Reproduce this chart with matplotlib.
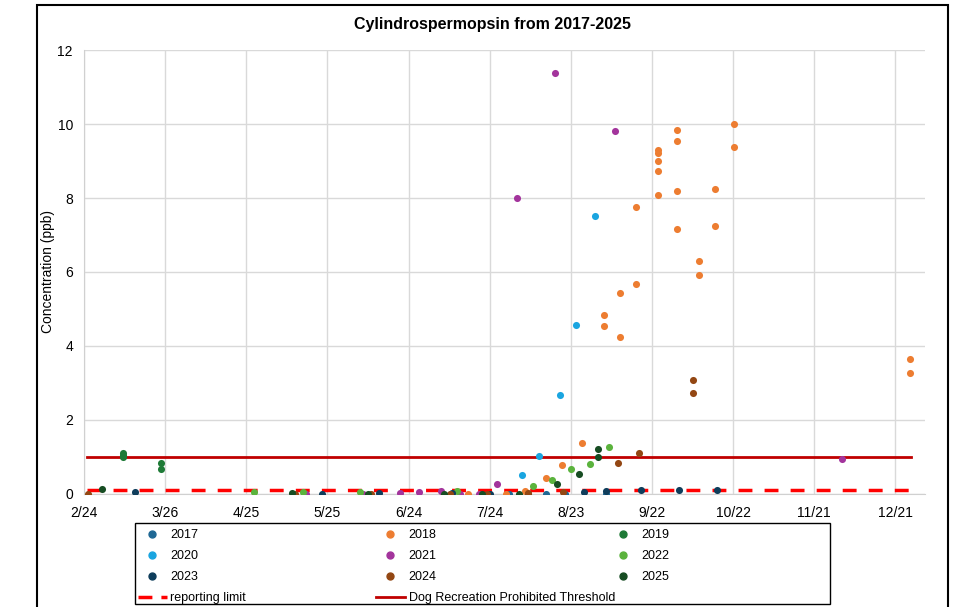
import numpy as np
import matplotlib.pyplot as plt
from matplotlib.patches import Rectangle
from matplotlib.lines import Line2D

plt.rcParams['font.family'] = ['Liberation Sans', 'DejaVu Sans']

# x = day of year, y = concentration (ppb)
d2017 = [212, 226, 233, 248]
c2017 = [0.0, 0.0, 0.0, 0.0]

d2018 = [197, 211, 218, 226, 231.9, 239.1, 247.2, 247.2, 253.2, 253.2, 259.2, 259.2,
         267.3, 267.3, 267.3, 267.3, 267.3, 274.3, 274.3, 274.3, 274.3, 282.3, 282.3,
         288.3, 288.3, 295.3, 295.3, 360.5, 360.5]
c2018 = [0.0, 0.01, 0.08, 0.44, 0.77, 1.37, 4.85, 4.53, 5.44, 4.25, 5.68, 7.77,
         9.30, 9.22, 9.0, 8.72, 8.09, 9.85, 9.54, 8.18, 7.17, 6.31, 5.91,
         8.23, 7.23, 10.01, 9.37, 3.64, 3.27]

d2019 = [69.5, 69.5, 69.5, 83.6, 83.6]
c2019 = [1.1, 1.05, 1.0, 0.83, 0.68]

d2020 = [217, 223.1, 231.1, 237.1, 244.1]
c2020 = [0.5, 1.02, 2.68, 4.57, 7.52]

d2021 = [137, 158, 172, 179, 187, 194, 201, 207.8, 215.1, 229.1, 251.2, 335.4]
c2021 = [0.01, 0.01, 0.03, 0.05, 0.07, 0.01, 0.0, 0.27, 7.99, 11.38, 9.81, 0.95]

d2022 = [117.7, 135.8, 157, 193, 221, 228, 235, 242, 249.2]
c2022 = [0.05, 0.05, 0.05, 0.07, 0.22, 0.38, 0.68, 0.82, 1.27]

d2023 = [73.7, 143, 164, 191, 205, 219, 240, 248, 261, 275, 289]
c2023 = [0.04, 0.0, 0.02, 0.02, 0.0, 0.0, 0.05, 0.09, 0.1, 0.1, 0.1]

d2024 = [56.6, 133, 161, 190.2, 204, 219, 232, 252.3, 260.3, 280.2, 280.2]
c2024 = [0.0, 0.0, 0.0, 0.0, 0.0, 0.02, 0.04, 0.85, 1.12, 3.07, 2.72]

d2025 = [61.5, 131.8, 160, 188, 202, 216, 230, 238, 245.1, 245.1]
c2025 = [0.13, 0.02, 0.0, 0.0, 0.0, 0.01, 0.27, 0.54, 1.21, 1.01]

reporting_limit = 0.1
dog_threshold = 1.0
line_days = [56, 361]

tick_days = [55, 85, 115, 145, 175, 205, 235, 265, 295, 325, 355]
tick_labels = ["2/24", "3/26", "4/25", "5/25", "6/24", "7/24", "8/23", "9/22", "10/22", "11/21", "12/21"]

series = [
    ("2017", d2017, c2017, "#1f6894"),
    ("2018", d2018, c2018, "#ed7d31"),
    ("2019", d2019, c2019, "#1e7a36"),
    ("2020", d2020, c2020, "#1aa5e0"),
    ("2021", d2021, c2021, "#a3349c"),
    ("2022", d2022, c2022, "#5bb33d"),
    ("2023", d2023, c2023, "#0e3d5b"),
    ("2024", d2024, c2024, "#934713"),
    ("2025", d2025, c2025, "#174d23"),
]

fig = plt.figure(figsize=(9.55, 6.07), dpi=100)
ax = fig.add_axes([0.088, 0.1862, 0.8806, 0.7314])

for name, d, c, col in series:
    ax.scatter(d, c, s=26, color=col, zorder=3, linewidths=0)

dash = (4, 3.5)
ax.plot(line_days, [reporting_limit] * 2, color="#ff0000", lw=2.5, dashes=dash, zorder=2)
ax.plot(line_days, [dog_threshold] * 2, color="#c00000", lw=2, zorder=2)

ax.set_xlim(55, 366)
ax.set_ylim(0, 12)
ax.set_xticks(tick_days)
ax.set_xticklabels(tick_labels)
ax.set_yticks(np.arange(0, 13, 2))
ax.tick_params(length=0, labelsize=10)
ax.tick_params(axis="x", pad=9)
ax.tick_params(axis="y", pad=8)
ax.grid(True, color="#d9d9d9", lw=1)
ax.set_axisbelow(True)
for s in ["top", "right"]:
    ax.spines[s].set_visible(False)
for s in ["left", "bottom"]:
    ax.spines[s].set_color("#d0d0d0")
ax.set_ylabel("Concentration (ppb)", fontsize=10)
ax.yaxis.set_label_coords(-0.034, 0.5)

fig.text(0.5157, 0.96, "Cylindrospermopsin from 2017-2025", ha="center", va="center",
         fontsize=11.5, fontweight="bold")

# legend: three single-column legends inside one box
def year_handle(k):
    return Line2D([], [], ls="none", marker="o", markersize=5, color=series[k][3])

columns = [
    ([year_handle(0), year_handle(3), year_handle(6),
      Line2D([], [], color="#ff0000", lw=2.5, dashes=(4, 2.6))],
     ["2017", "2020", "2023", "reporting limit"], 138),
    ([year_handle(1), year_handle(4), year_handle(7),
      Line2D([], [], color="#c00000", lw=2)],
     ["2018", "2021", "2024", "Dog Recreation Prohibited Threshold"], 376),
    ([year_handle(2), year_handle(5), year_handle(8)],
     ["2019", "2022", "2025"], 609),
]
for hs, ls, xpx in columns:
    leg = fig.legend(hs, ls, loc="upper left", bbox_to_anchor=(xpx / 955, 1 - 529 / 607),
                     fontsize=9, frameon=False, handlelength=2.3, handletextpad=0.3,
                     borderaxespad=0, borderpad=0, labelspacing=0.72)

fig.patches.append(Rectangle((135 / 955, 1 - 604 / 607), 695 / 955, 81 / 607,
                             transform=fig.transFigure, fill=False,
                             edgecolor="black", lw=1))

fig.patches.append(Rectangle((37 / 955, -0.01), 911 / 955, 1 - 5 / 607 + 0.01,
                             transform=fig.transFigure, fill=False,
                             edgecolor="black", lw=1.5))

fig.savefig("out.png", dpi=100)
